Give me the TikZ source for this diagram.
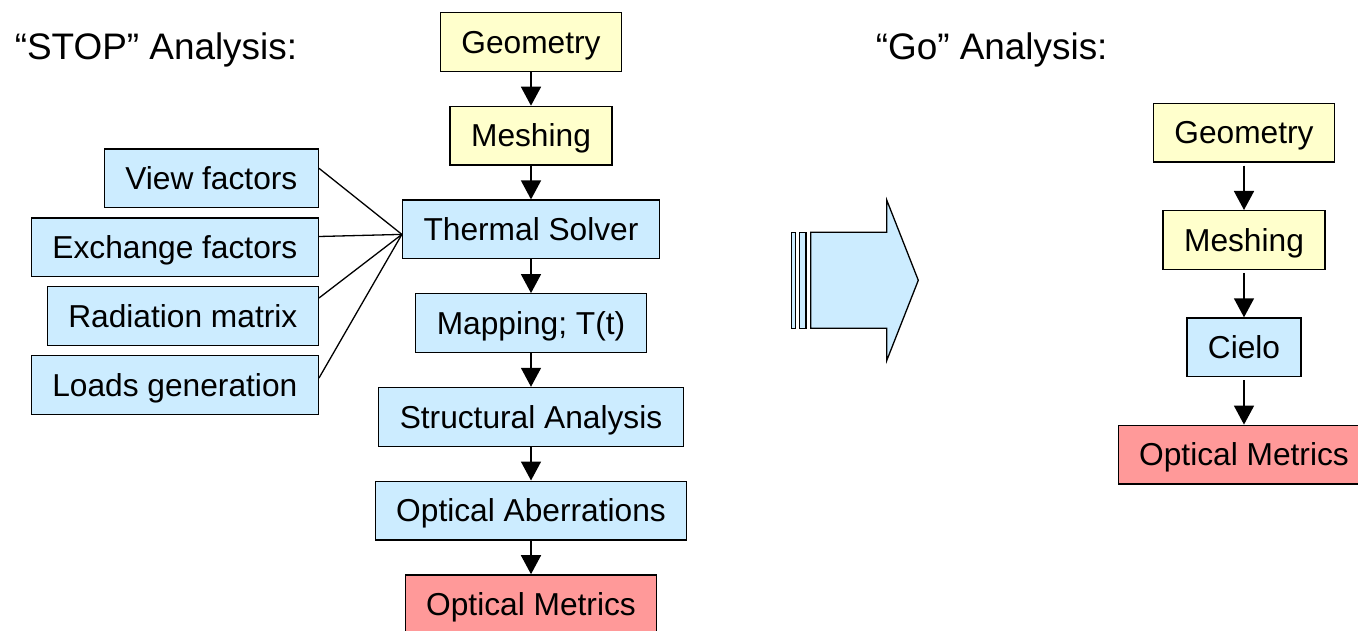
\documentclass[tikz,border=0pt]{standalone}
\usepackage{fontspec}
\setmainfont{Liberation Sans}
\usetikzlibrary{arrows.meta}
\definecolor{paleyellow}{HTML}{FFFFCC}
\definecolor{paleblue}{HTML}{CCECFF}
\definecolor{palered}{HTML}{FF9999}

\begin{document}
\begin{tikzpicture}[->,>={Triangle[width=20pt,length=19pt]},x=1pt,y=-1pt,
                    line width=1.6pt,node distance=93.7pt,
                    box/.style={draw,line width=1.3pt,minimum height=58.7pt,
                                inner xsep=21pt,inner ysep=0pt,
                                text height=26pt,text depth=3.4pt,
                                font=\fontsize{31.7}{38}\selectfont},
                    geo box/.style={box,fill=paleyellow},
                    calc box/.style={box,fill=paleblue},
                    result box/.style={box,fill=palered},
                    title/.style={anchor=base west,inner sep=0pt,
                                  font=\fontsize{36.9}{44}\selectfont}]
  \useasboundingbox (0,0) rectangle (1358,631);

  \node[title] (stop) at (14,60)  {“STOP” Analysis:};
  \node[title] (go)   at (875,60) {“Go” Analysis:};

  % STOP analysis
  \node[geo box]    (geo)  at (531,42)     {Geometry};
  \node[geo box]    (mesh) [below of=geo]  {Meshing};
  \node[calc box]   (ts)   [below of=mesh] {Thermal Solver};
  \node[calc box]   (map)  [below of=ts]   {Mapping; T(t)};
  \node[calc box]   (sa)   [below of=map]  {Structural Analysis};
  \node[calc box]   (oa)   [below of=sa]   {Optical Aberrations};
  \node[result box] (om)   [below of=oa]   {Optical Metrics};

  \node[calc box,anchor=east] (vf) at (319,178.3) {View factors};
  \node[calc box,anchor=east] (xf) at (319,247.5) {Exchange factors};
  \node[calc box,anchor=east] (rm) at (319,316)   {Radiation matrix};
  \node[calc box,anchor=east] (lg) at (319,385)   {Loads generation};
  \coordinate (hub) at ([yshift=-5pt]ts.west);

  \path (geo)  edge (mesh)
        (mesh) edge (ts)
        (ts)   edge (map)
        (map)  edge (sa)
        (sa)   edge (oa)
        (oa)   edge (om);
  \path[-,line width=1.3pt]
        ([yshift=10pt]vf.east) edge (hub)
        ([yshift=11pt]xf.east) edge (hub)
        ([yshift=18pt]rm.east) edge (hub)
        ([yshift=7pt]lg.east)  edge (hub);

  % striped arrow
  \draw[-,line width=1.3pt,fill=paleblue] (791.3,232.3) rectangle (795.3,328.3);
  \draw[-,line width=1.3pt,fill=paleblue] (799.6,232.3) rectangle (806,328.3);
  \draw[-,line width=1.3pt,fill=paleblue] (810.7,232.3) -- (886.7,232.3)
        -- (886.7,200) -- (918.3,280.3) -- (886.7,360.6) -- (886.7,328.3)
        -- (810.7,328.3) -- cycle;

  % Go analysis
  \node[geo box]    (geo2)  at (1244,132.7) {Geometry};
  \node[geo box]    (mesh2) [node distance=107.3pt,below of=geo2]  {Meshing};
  \node[calc box]   (cielo) [node distance=107.3pt,below of=mesh2] {Cielo};
  \node[result box] (om2)   [node distance=107.3pt,below of=cielo] {Optical Metrics};

  \path[shorten <=3pt] (geo2)  edge (mesh2)
                       (mesh2) edge (cielo)
                       (cielo) edge (om2);
\end{tikzpicture}
\end{document}
